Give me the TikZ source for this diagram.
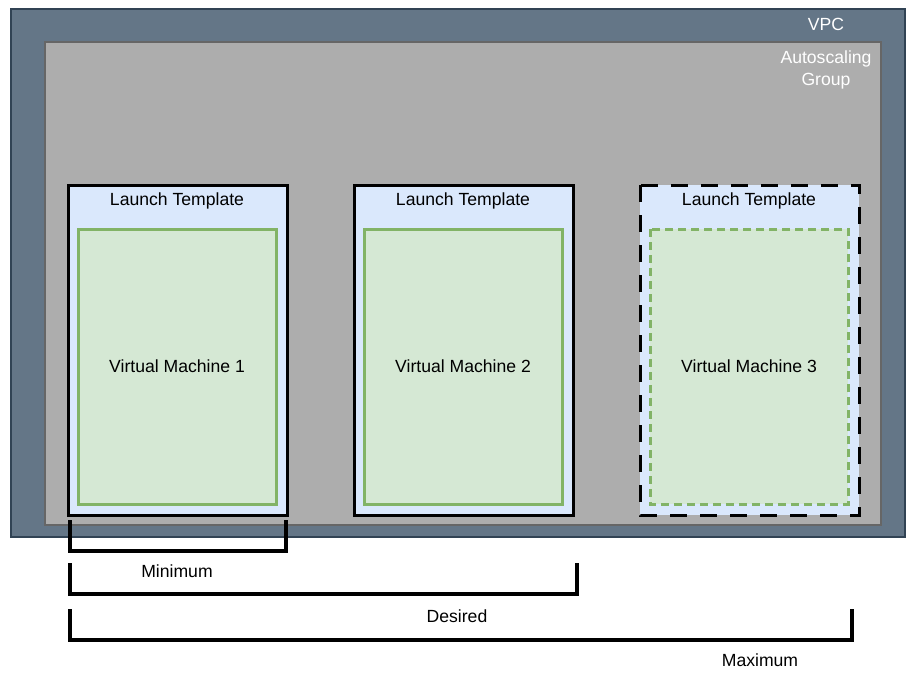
\documentclass[tikz,border=0pt]{standalone}
\usepackage{fontspec}
\setmainfont{Liberation Sans}
\definecolor{vpcfill}{HTML}{647687}
\definecolor{vpcline}{HTML}{314354}
\definecolor{asgfill}{HTML}{ADADAD}
\definecolor{asgline}{HTML}{666666}
\definecolor{ltfill}{HTML}{DAE8FC}
\definecolor{vmfill}{HTML}{D5E8D4}
\definecolor{vmline}{HTML}{82B366}
\begin{document}
\begin{tikzpicture}[x=1pt,y=-1pt,
  lbl/.style={font=\fontsize{17.6}{22}\selectfont, text=black, align=center},
  wlbl/.style={font=\fontsize{17.6}{22}\selectfont, text=white, align=center},
  ltbox/.style={fill=ltfill, draw=black, line width=3pt},
  vmbox/.style={fill=vmfill, draw=vmline, line width=3pt},
  bracket/.style={draw=black, line width=4pt, line cap=butt, line join=miter}]
\useasboundingbox (0,0) rectangle (921,680);
\fill[white] (0,0) rectangle (921,680);
% VPC
\draw[fill=vpcfill, draw=vpcline, line width=2pt] (11,9) rectangle (905,537);
\node[wlbl] (vpc) at (826,24) {VPC};
% ASG
\draw[fill=asgfill, draw=asgline, line width=2.5pt] (45,42) rectangle (881,525);
\node[wlbl] (asg) at (826,70) {Autoscaling\\Group};
% Launch templates
\draw[ltbox] (68,185) rectangle (287,515);
\node[lbl] (lt1) at (177,201) {Launch Template};
\draw[vmbox] (78,229) rectangle (276,504);
\node[lbl] (vm1) at (177,366) {Virtual Machine 1};
\draw[ltbox] (354,185) rectangle (573,515);
\node[lbl] (lt2) at (463,201) {Launch Template};
\draw[vmbox] (364,229) rectangle (562,504);
\node[lbl] (vm2) at (463,366) {Virtual Machine 2};
\fill[ltfill] (640,185) rectangle (859,515);
\draw[black, line width=3pt, dash pattern=on 17pt off 13pt] (640,185) rectangle (859,515);
\fill[vmfill] (650,229) rectangle (848,504);
\draw[vmline, line width=3pt, dash pattern=on 8pt off 5pt] (650,229) rectangle (848,504);
\node[lbl] (lt3) at (749,201) {Launch Template};
\node[lbl] (vm3) at (749,366) {Virtual Machine 3};
% brackets
\draw[bracket] (70,520) -- (70,551) -- (286,551) -- (286,520);
\node[lbl] (min) at (177,571) {Minimum};
\draw[bracket] (70,563) -- (70,594) -- (577,594) -- (577,563);
\node[lbl] (des) at (457,616) {Desired};
\draw[bracket] (70,609) -- (70,640) -- (852,640) -- (852,609);
\node[lbl] (max) at (760,660) {Maximum};
\end{tikzpicture}
\end{document}
